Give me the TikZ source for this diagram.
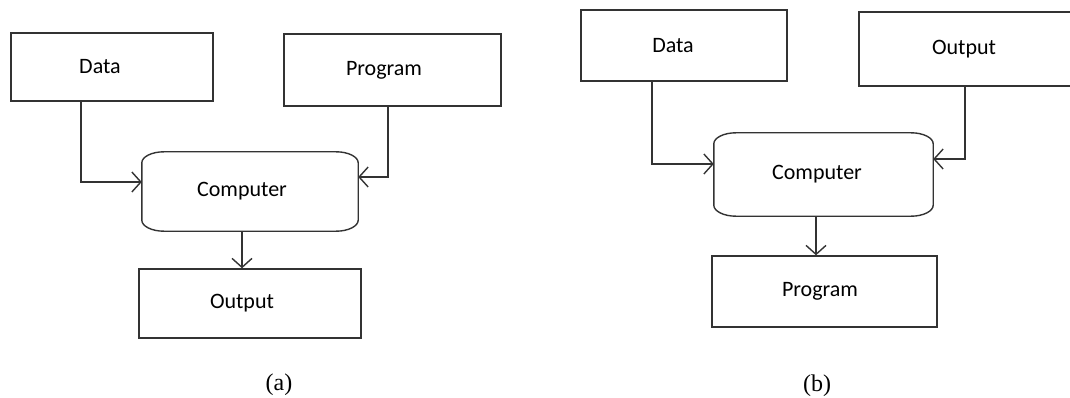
\documentclass[tikz,border=0pt]{standalone}
\usepackage{fontspec}
\setmainfont{Liberation Serif}
\newfontfamily\boxfont{Carlito}
\usetikzlibrary{arrows.meta}

% text set slightly left of the box centre: \shiftedtext{gap}{text}
\newcommand\shiftedtext[2]{#2\hspace{#1}\null}

% outline of a box with elliptical corners around a (plain) node
\newcommand\drawcomputerbox[1]{%
  \draw[outline] ([yshift=-11pt]#1.north west)
    .. controls ([yshift=-5pt]#1.north west) and ([xshift=10pt]#1.north west) .. ([xshift=22pt]#1.north west)
    -- ([xshift=-22pt]#1.north east)
    .. controls ([xshift=-10pt]#1.north east) and ([yshift=-5pt]#1.north east) .. ([yshift=-11pt]#1.north east)
    -- ([yshift=11pt]#1.south east)
    .. controls ([yshift=5pt]#1.south east) and ([xshift=-10pt]#1.south east) .. ([xshift=-22pt]#1.south east)
    -- ([xshift=22pt]#1.south west)
    .. controls ([xshift=10pt]#1.south west) and ([yshift=5pt]#1.south west) .. ([yshift=11pt]#1.south west)
    -- cycle;}

\begin{document}
\begin{tikzpicture}[x=1pt,y=-1pt,
  outline/.style={draw=black!80, line width=1.4pt},
  box/.style={outline, rectangle, inner sep=0pt, font=\boxfont\fontsize{22}{26}\selectfont},
  plain/.style={rectangle, inner sep=0pt, font=\boxfont\fontsize{22}{26}\selectfont},
  arr/.style={draw=black!80, line width=1.4pt, -{Straight Barb[length=9pt,width=20pt]}},
  caption/.style={inner sep=0pt, font=\fontsize{24}{28}\selectfont}]

\useasboundingbox (0,0) rectangle (1070,398);

% ---------- (a) ----------
\node[box, minimum width=202pt, minimum height=68pt] (dataA) at (112,67) {\shiftedtext{24pt}{Data}};
\node[box, minimum width=217pt, minimum height=72pt] (progA) at (392.5,70) {\shiftedtext{17pt}{Program}};
\node[plain, minimum width=216pt, minimum height=79pt] (compA) at (250,191.5) {\shiftedtext{16pt}{Computer}};
\drawcomputerbox{compA}
\node[box, minimum width=222pt, minimum height=69pt] (outA) at (250,303.5) {\shiftedtext{16pt}{Output}};

\coordinate (dA) at (81,182);
\coordinate (pA) at (388,177);
\coordinate (oA) at (242,250);
\draw[arr] (dataA.south -| dA) |- (compA.west |- dA);
\draw[arr] (progA.south -| pA) |- (compA.east |- pA);
\draw[arr] (compA.south -| oA) -- (outA.north -| oA);

\node[caption] (capA) at (279,385) {(a)};

% ---------- (b) ----------
\node[box, minimum width=206pt, minimum height=71pt] (dataB) at (684,45.5) {\shiftedtext{22pt}{Data}};
\node[box, minimum width=215pt, minimum height=74pt] (outB) at (966.5,49) {\shiftedtext{5pt}{Output}};
\node[plain, minimum width=219pt, minimum height=83pt] (compB) at (823.5,174.5) {\shiftedtext{13pt}{Computer}};
\drawcomputerbox{compB}
\node[box, minimum width=225pt, minimum height=71pt] (progB) at (824.5,291.5) {\shiftedtext{9pt}{Program}};

\coordinate (dB) at (652,164);
\coordinate (oB) at (965,159);
\coordinate (pB) at (816,236);
\draw[arr] (dataB.south -| dB) |- (compB.west |- dB);
\draw[arr] (outB.south -| oB) |- (compB.east |- oB);
\draw[arr] (compB.south -| pB) -- (progB.north -| pB);

\node[caption] (capB) at (817,386) {(b)};
\end{tikzpicture}
\end{document}
